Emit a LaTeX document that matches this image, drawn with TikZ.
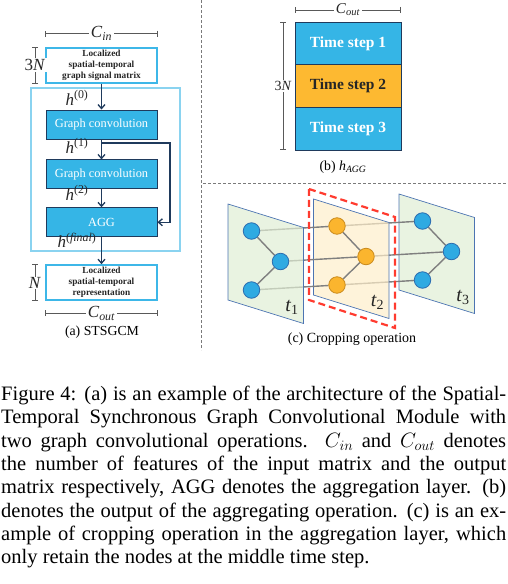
\documentclass[tikz,border=0pt]{standalone}
\usepackage{fontspec}
\setmainfont{Liberation Serif}
\usepackage{tikz}
\usetikzlibrary{arrows.meta, positioning, backgrounds}
\definecolor{cyanfill}{HTML}{35B5E6}
\definecolor{navy}{HTML}{1F3A5C}
\definecolor{boxline}{HTML}{3DB7E8}
\definecolor{frameline}{HTML}{8AD3F0}
\definecolor{stepyellow}{HTML}{FDB931}
\definecolor{dimgray}{HTML}{595959}
\definecolor{sepgray}{HTML}{7A7A7A}
\definecolor{planegreen}{HTML}{E0EED4}
\definecolor{planeyellow}{HTML}{FEEECA}
\definecolor{planeline}{HTML}{4C74B2}
\definecolor{nodeblue}{HTML}{2FAAE2}
\definecolor{blueline}{HTML}{2B6CB0}
\definecolor{nodeorange}{HTML}{FBB52E}
\definecolor{orangeline}{HTML}{C98A1C}
\definecolor{linkgray}{HTML}{7F7F7F}
\definecolor{cropred}{HTML}{FF3B2F}
\newcommand{\hsym}[1]{\textit{h}\textsuperscript{#1}}
\newcommand{\csym}[1]{\textit{C}\textsubscript{\textit{#1}}}
\tikzstyle{layer} = [rectangle, minimum width=111pt, minimum height=29pt, text centered, draw=navy, line width=0.9pt, fill=cyanfill, text=white, font=\fontsize{12.4}{14}\selectfont]
\tikzstyle{matrixbox} = [rectangle, minimum width=111pt, minimum height=35pt, align=center, draw=boxline, line width=2pt, inner sep=0pt, text=black!85, font=\fontsize{9.3}{11}\selectfont\bfseries]
\tikzstyle{arrow} = [line width=1.3pt, draw=navy, -{Straight Barb[length=4pt,width=7pt]}]
\tikzstyle{dimline} = [draw=dimgray, line width=0.8pt, {Bar[width=6pt]}-{Bar[width=6pt]}]
\tikzstyle{dimlabel} = [fill=white, inner sep=1.5pt, text=black!85, font=\fontsize{17}{17}\selectfont]
\tikzstyle{steprow} = [rectangle, minimum width=106pt, minimum height=42.67pt, draw=navy, line width=0.8pt, outer sep=0pt, font=\fontsize{15.5}{16}\selectfont\bfseries]
\tikzstyle{gnode} = [circle, minimum size=16.5pt, inner sep=0pt, line width=0.8pt]
\tikzstyle{plane} = [draw=planeline, line width=0.7pt, fill opacity=0.7]
\tikzstyle{link} = [draw=linkgray, line width=1.4pt]
\tikzstyle{sepline} = [draw=sepgray, line width=0.8pt, dash pattern=on 3pt off 2pt]
\tikzstyle{sub} = [text=black!85, font=\fontsize{17}{18}\selectfont]

\begin{document}
\begin{tikzpicture}[x=1pt, y=-1pt]
\useasboundingbox (0,0) rectangle (508,584);

% (a) STSGCM
\node (cin) [matrixbox] at (101.5,65) {Localized\\spatial-temporal\\graph signal matrix};
\node (gc1) [layer, below=26pt of cin] {Graph convolution};
\node (gc2) [layer, below=20pt of gc1] {Graph convolution};
\node (agg) [layer, below=18pt of gc2] {AGG};
\node (cout) [matrixbox, below=27pt of agg] {Localized\\spatial-temporal\\representation};
\draw [frameline, line width=1.5pt] (31,88) rectangle (180,251);

\draw [arrow] (cin) -- (gc1);
\draw [arrow] (gc1) -- (gc2);
\draw [arrow] (gc2) -- (agg);
\draw [arrow] (agg) -- (cout);
\coordinate (split) at (gc1.south |- 0,143);
\coordinate (bend) at (170,143);
\draw [arrow] (split) -- (bend) |- (agg.east);

\node (h0) [sub] at (77,98) {\hsym{(0)}};
\node (h1) [sub] at (77,146) {\hsym{(1)}};
\node (h2) [sub] at (77,193) {\hsym{(2)}};
\node (hf) [sub] at (77,240) {\hsym{(\textit{final})}};

\draw [dimline] ([yshift=13pt]cin.north west) -- node[dimlabel] (cinw) {\csym{in}} ([yshift=13pt]cin.north east);
\draw [dimline] ([xshift=-10pt]cin.north west) -- node[dimlabel] (cinh) {3\textit{N}} ([xshift=-10pt]cin.south west);
\draw [dimline] ([xshift=-10pt]cout.north west) -- node[dimlabel, inner sep=0.5pt] (couth) {\textit{N}} ([xshift=-10pt]cout.south west);
\draw [dimline] ([yshift=-12pt]cout.south west) -- node[dimlabel] (coutw) {\csym{out}} ([yshift=-12pt]cout.south east);
\node (capa) [font=\fontsize{13.8}{16}\selectfont] at (102,332) {(a) STSGCM};

% separators
\draw [sepline] (201,0) -- (201,350);
\draw [sepline] (203,183) -- (506,183);

% (b) h_AGG
\node (ts1) [steprow, fill=cyanfill, text=white] at (348,43.3) {Time step 1};
\node (ts2) [steprow, fill=stepyellow, text=black!85, below=0pt of ts1] {Time step 2};
\node (ts3) [steprow, fill=cyanfill, text=white, below=0pt of ts2] {Time step 3};
\draw [dimline] ([yshift=12pt]ts1.north west) -- node[dimlabel, font=\fontsize{15}{15}\selectfont] (aggw) {\csym{out}} ([yshift=12pt]ts1.north east);
\draw [dimline] ([xshift=-12pt]ts1.north west) -- node[dimlabel, font=\fontsize{14}{14}\selectfont] (aggh) {3\textit{N}} ([xshift=-12pt]ts3.south west);
\node (capb) [font=\fontsize{13.8}{16}\selectfont] at (343,167) {(b) \textit{h}\textsubscript{\textit{AGG}}};

% (c) cropping
\coordinate (p1) at (228,204);
\coordinate (p2) at (313.5,199);
\coordinate (p3) at (399,194);
\foreach \i/\col/\rim in {1/nodeblue/blueline, 2/nodeorange/orangeline, 3/nodeblue/blueline} {
  \node (g\i a) [gnode, fill=\col, draw=\rim] at ([shift={(23.5,27)}]p\i) {};
  \node (g\i b) [gnode, fill=\col, draw=\rim] at ([shift={(52.5,57.5)}]p\i) {};
  \node (g\i c) [gnode, fill=\col, draw=\rim] at ([shift={(23.5,86)}]p\i) {};
  \node (t\i) [text=black!85, font=\fontsize{20}{20}\selectfont] at ([shift={(64,103)}]p\i) {\textit{t}\textsubscript{\i}};
}
\begin{scope}[on background layer]
\draw [plane, fill=planegreen] (p3) -- ++(75.5,23.5) -- ++(0,96) -- ++(-75.5,-23.5) -- cycle;
\foreach \k in {a,b,c} \draw [link] (g2\k) -- (g3\k);
\draw [plane, fill=planeyellow] (p2) -- ++(75.5,23.5) -- ++(0,96) -- ++(-75.5,-23.5) -- cycle;
\foreach \k in {a,b,c} \draw [link] (g1\k) -- (g2\k);
\draw [plane, fill=planegreen] (p1) -- ++(75.5,23.5) -- ++(0,96) -- ++(-75.5,-23.5) -- cycle;
\foreach \i in {1,2,3} \draw [link] (g\i a) -- (g\i b) -- (g\i c);
\end{scope}
\draw [cropred, line width=2.2pt, dash pattern=on 7pt off 4pt] ([shift={(-4.5,-10)}]p2) -- ([shift={(81.5,18)}]p2) -- ([shift={(81.5,129)}]p2) -- ([shift={(-4.5,101)}]p2) -- cycle;
\node (capc) [font=\fontsize{14}{16}\selectfont] at (352,339) {(c) Cropping operation};

% caption
\node (caption) [anchor=north west, inner sep=0pt, text width=505pt, align=justify, font=\fontsize{20.5}{23.3}\selectfont] at (1,386) {Figure 4: (a) is an example of the architecture of the Spatial-\linebreak Temporal Synchronous Graph Convolutional Module with\linebreak two graph convolutional operations. $C_{in}$ and $C_{out}$ denotes\linebreak the number of features of the input matrix and the output\linebreak matrix respectively, AGG denotes the aggregation layer. (b)\linebreak denotes the output of the aggregating operation. (c) is an ex-\linebreak ample of cropping operation in the aggregation layer, which\linebreak only retain the nodes at the middle time step.};

\end{tikzpicture}
\end{document}
